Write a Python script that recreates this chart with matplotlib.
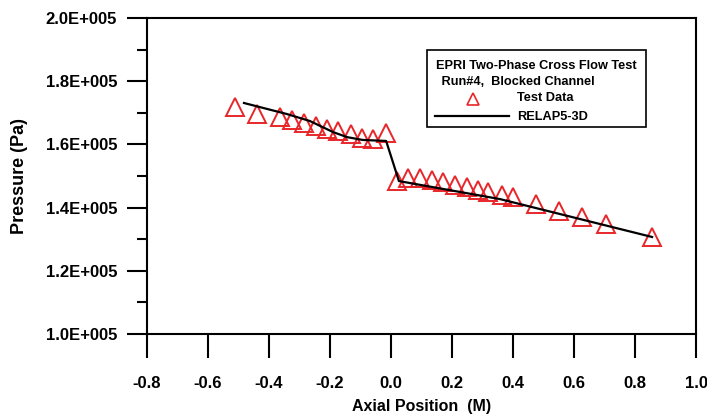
import matplotlib
matplotlib.use("Agg")
import matplotlib.pyplot as plt
from matplotlib.ticker import MultipleLocator, FuncFormatter
from matplotlib.patches import Rectangle
from matplotlib.lines import Line2D

plt.rcParams['font.family'] = ['Liberation Sans', 'DejaVu Sans']
plt.rcParams['font.weight'] = 'bold'

# test data (axial position in m, pressure in Pa)
test_x = [-0.511, -0.439, -0.364, -0.325, -0.285, -0.246, -0.210, -0.174,
          -0.131, -0.095, -0.059, -0.016,
          0.020, 0.056, 0.095, 0.134, 0.170, 0.210, 0.249, 0.285,
          0.318, 0.364, 0.400, 0.475, 0.551, 0.626, 0.705, 0.856]
test_p = [171700, 169600, 168700, 167700, 166800, 165800, 164900, 164200,
          163300, 162000, 161700, 163600,
          148300, 149400, 149400, 148700, 148100, 147200, 146500, 145600,
          144900, 144000, 143400, 141100, 138900, 137000, 134800, 130700]

# RELAP5-3D calculation
relap_x = [-0.482, -0.341, -0.266, -0.190, -0.144, -0.092, -0.016, 0.026, 0.095, 0.357, 0.856]
relap_p = [173100, 169600, 167400, 163900, 162300, 161400, 161100, 148400, 147200, 142700, 130700]

W, H = 707, 416
fig = plt.figure(figsize=(W / 100, H / 100), dpi=100)
ax = fig.add_axes([147 / W, 1 - 334 / H, (696 - 147) / W, (334 - 18) / H])

red = '#e8262a'
ax.plot(test_x, test_p, linestyle='none', marker='^', ms=13, mfc='none',
        mec=red, mew=1.4, zorder=2)
ax.plot(relap_x, relap_p, color='black', lw=1.6, zorder=3)

ax.set_xlim(-0.8, 1.0)
ax.set_ylim(1.0e5, 2.0e5)
ax.xaxis.set_major_locator(MultipleLocator(0.2))
ax.yaxis.set_major_locator(MultipleLocator(0.2e5))
ax.yaxis.set_minor_locator(MultipleLocator(0.1e5))
ax.xaxis.set_major_formatter(FuncFormatter(lambda v, p: "%.1f" % v))
ax.yaxis.set_major_formatter(FuncFormatter(lambda v, p: "%.1fE+005" % (v / 1e5)))

for s in ax.spines.values():
    s.set_linewidth(1.5)
ax.tick_params(axis='x', which='major', direction='out', length=17.5, width=1.5,
               pad=13, labelsize=12)
ax.tick_params(axis='y', which='major', direction='out', length=14.5, width=1.5,
               pad=7, labelsize=12)
ax.tick_params(axis='y', which='minor', direction='out', length=7.2, width=1.5)
for lab in ax.get_xticklabels() + ax.get_yticklabels():
    lab.set_fontweight('bold')

ax.set_xlabel("Axial Position  (M)", fontsize=11.5, fontweight='bold')
ax.set_ylabel("Pressure (Pa)", fontsize=13, fontweight='bold')
ax.xaxis.set_label_coords(0.5, -0.207)
ax.yaxis.set_label_coords(-0.2168, 0.5)

# legend box drawn in figure pixels
def fx(px):
    return px / W

def fy(py):
    return 1 - py / H

fig.patches.append(Rectangle((fx(427), fy(127)), fx(646) - fx(427), fy(50) - fy(127),
                             transform=fig.transFigure, fill=False, ec='black', lw=1.2))
fig.text(fx(436), fy(66), "EPRI Two-Phase Cross Flow Test", fontsize=9.2,
         fontweight='bold', va='center', ha='left')
fig.text(fx(438), fy(82), " Run#4,  Blocked Channel", fontsize=9.2,
         fontweight='bold', va='center', ha='left')
fig.lines.append(Line2D([fx(473)], [fy(99)], transform=fig.transFigure, marker='^',
                        ms=9, mfc='none', mec=red, mew=1.2, linestyle='none'))
fig.text(fx(517), fy(98), "Test Data", fontsize=9.2, fontweight='bold',
         va='center', ha='left')
fig.lines.append(Line2D([fx(435), fx(509)], [fy(116), fy(116)],
                        transform=fig.transFigure, color='black', lw=1.6))
fig.text(fx(517), fy(117), "RELAP5-3D", fontsize=9.2, fontweight='bold',
         va='center', ha='left')

fig.savefig("out.png", dpi=100)
